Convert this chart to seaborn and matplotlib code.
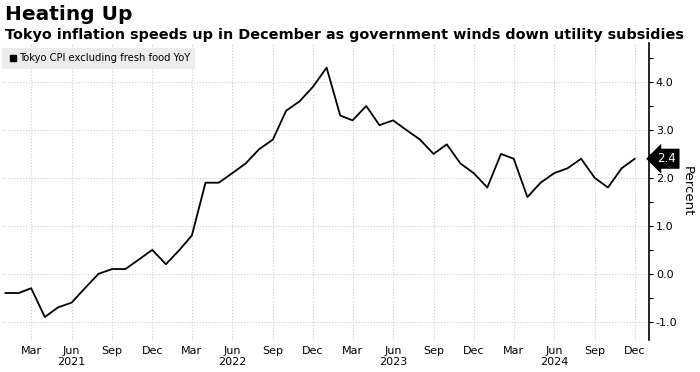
import numpy as np
import pandas as pd
import matplotlib
matplotlib.use("Agg")
import matplotlib.pyplot as plt
import matplotlib.dates as mdates
import matplotlib.transforms as mtransforms
from matplotlib.lines import Line2D
from matplotlib.ticker import MultipleLocator, FuncFormatter
import seaborn as sns

# Tokyo CPI excluding fresh food, YoY %, monthly Jan 2021 - Dec 2024
months = pd.date_range("2021-01-01", "2024-12-01", freq="MS")
cpi_2021 = [-0.4, -0.4, -0.3, -0.9, -0.7, -0.6, -0.3, 0.0, 0.1, 0.1, 0.3, 0.5]
cpi_2022 = [0.2, 0.5, 0.8, 1.9, 1.9, 2.1, 2.3, 2.6, 2.8, 3.4, 3.6, 3.9]
cpi_2023 = [4.3, 3.3, 3.2, 3.5, 3.1, 3.2, 3.0, 2.8, 2.5, 2.7, 2.3, 2.1]
cpi_2024 = [1.8, 2.5, 2.4, 1.6, 1.9, 2.1, 2.2, 2.4, 2.0, 1.8, 2.2, 2.4]

title = "Heating Up"
subtitle = "Tokyo inflation speeds up in December as government winds down utility subsidies"
series_name = "Tokyo CPI excluding fresh food YoY"

df = pd.DataFrame({
    "date": months,
    "cpi": cpi_2021 + cpi_2022 + cpi_2023 + cpi_2024,
})

sns.set_style("white")
plt.rcParams["font.family"] = ["DejaVu Sans"]
plt.rcParams["axes.unicode_minus"] = False
plt.rcParams["text.color"] = "black"
plt.rcParams["axes.labelcolor"] = "black"

fig = plt.figure(figsize=(7.0, 3.72), dpi=100)
ax = fig.add_axes([0.003, 0.086, 0.924, 0.798])

sns.lineplot(data=df, x="date", y="cpi", color="black", linewidth=1.3,
             ax=ax, legend=False)

ax.set_xlim(pd.Timestamp("2020-12-25"), pd.Timestamp("2025-01-02"))
ax.set_ylim(-1.38, 4.81)

# x axis: quarter months, year under June
ax.xaxis.set_major_locator(mdates.MonthLocator(bymonth=[3, 6, 9, 12]))
def fmt_date(x, pos):
    d = mdates.num2date(x)
    lab = d.strftime("%b")
    if d.month == 6:
        lab += "\n" + str(d.year)
    return lab
ax.xaxis.set_major_formatter(FuncFormatter(fmt_date))
ax.tick_params(axis="x", length=0, pad=4, labelsize=8, colors="black")

# y axis on the right
ax.yaxis.tick_right()
ax.yaxis.set_label_position("right")
ax.yaxis.set_major_locator(MultipleLocator(1.0))
ax.yaxis.set_minor_locator(MultipleLocator(0.5))
ax.yaxis.set_major_formatter(FuncFormatter(lambda v, p: f"{v:.1f}"))
ax.tick_params(axis="y", which="major", length=3, width=0.8, pad=2,
               labelsize=8, colors="black")
ax.tick_params(axis="y", which="minor", length=3, width=0.8, colors="black")
ax.set_ylabel("Percent", rotation=270, labelpad=12, fontsize=9.5)
ax.set_xlabel("")

for s in ["left", "top", "bottom"]:
    ax.spines[s].set_visible(False)
ax.spines["right"].set_color("black")
ax.spines["right"].set_linewidth(1.2)

ax.grid(True, which="major", linestyle=":", color="#cccccc", linewidth=0.8)

# last value tag
last = df["cpi"].iloc[-1]
trans = mtransforms.blended_transform_factory(ax.transAxes, ax.transData)
ax.annotate(f"{last:.1f}", xy=(1.0, last), xycoords=trans,
            xytext=(6, 0), textcoords="offset points",
            ha="left", va="center", color="white", fontsize=8.5,
            bbox=dict(boxstyle="larrow,pad=0.3", fc="black", ec="none"),
            annotation_clip=False)

# legend
handle = Line2D([], [], marker="s", color="black", linestyle="none", markersize=5)
leg = ax.legend([handle], [series_name], loc="upper left",
                bbox_to_anchor=(0.0, 0.985), frameon=True, fancybox=False,
                facecolor="#ececec", edgecolor="none", framealpha=1,
                fontsize=7.2, handletextpad=0.1, handlelength=1.0,
                borderpad=0.55, borderaxespad=0.0)

fig.text(0.007, 0.945, title, fontsize=14.5, fontweight="bold", ha="left")
fig.text(0.007, 0.895, subtitle, fontsize=10.35, fontweight="bold", ha="left")

fig.savefig("out.png", dpi=100)
